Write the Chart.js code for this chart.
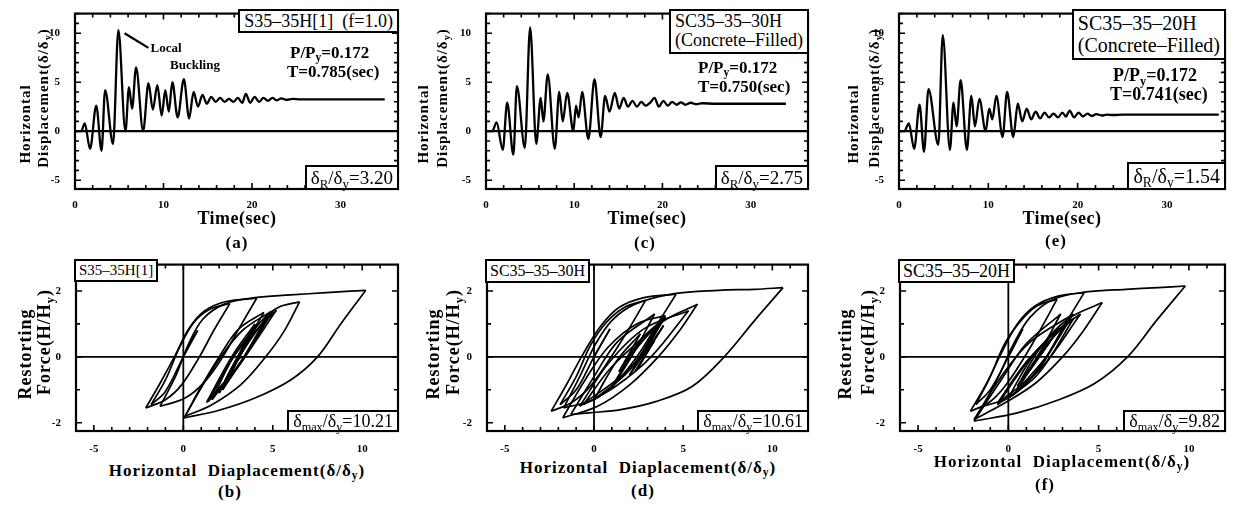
<!DOCTYPE html>
<html>
<head>
<meta charset="utf-8">
<script src="https://cdn.jsdelivr.net/npm/chart.js@4.4.1/dist/chart.umd.min.js"></script>
<style>
  body { margin: 0; background: #fff; }
  #fig { position: relative; width: 1235px; height: 506px; overflow: hidden; font-family: 'Liberation Serif', 'Times New Roman', serif; color: #000; }
  #fig canvas { position: absolute; }
  .t { position: absolute; white-space: nowrap; line-height: 1; z-index: 2; }
  .b { font-weight: bold; }
  .c { transform: translate(-50%, -50%); }
  .rot { transform: translate(-50%, -50%) rotate(-90deg); }
  .box { position: absolute; border: 2px solid #000; background: #fff; white-space: nowrap; line-height: 1; z-index: 2; padding: 1px 4px; }
  sub { font-size: 68%; vertical-align: -0.3em; line-height: 0; }
</style>
</head>
<body>
<div id="fig">
  <div id="plots"></div>

  <!-- (a) -->
  <div class="t b rot" style="left:25px;top:124px;font-size:15px;letter-spacing:1px">Horizontal</div>
  <div class="t b rot" style="left:43px;top:98px;font-size:15px;letter-spacing:1px">Displacement(δ/δ<sub>y</sub>)</div>
  <div class="t b c" style="left:237px;top:218px;font-size:18px;letter-spacing:0.5px">Time(sec)</div>
  <div class="t b c" style="left:237px;top:242px;font-size:17px;letter-spacing:1px">(a)</div>
  <div class="box" style="right:836px;top:9px;font-size:18px">S35–35H[1]&nbsp;&nbsp;(f=1.0)</div>
  <div class="t b" style="left:290px;top:44px;font-size:17px">P/P<sub>y</sub>=0.172</div>
  <div class="t b" style="left:287px;top:63px;font-size:17px">T=0.785(sec)</div>
  <div class="box" style="right:836px;bottom:316px;font-size:19px">δ<sub>R</sub>/δ<sub>y</sub>=3.20</div>
  <div class="t b c" style="left:166px;top:47px;font-size:13px">Local</div>
  <div class="t b c" style="left:195px;top:64px;font-size:13px">Buckling</div>

  <!-- (c) -->
  <div class="t b rot" style="left:423px;top:124px;font-size:15px;letter-spacing:1px">Horizontal</div>
  <div class="t b rot" style="left:442px;top:98px;font-size:15px;letter-spacing:1px">Displacement(δ/δ<sub>y</sub>)</div>
  <div class="t b c" style="left:647px;top:218px;font-size:18px;letter-spacing:0.5px">Time(sec)</div>
  <div class="t b c" style="left:645px;top:242px;font-size:17px;letter-spacing:1px">(c)</div>
  <div class="box" style="right:426px;top:9px;font-size:18px;line-height:1.08"><div>SC35–35–30H</div><div style="text-align:right">(Concrete–Filled)</div></div>
  <div class="t b" style="left:698px;top:59px;font-size:17px">P/P<sub>y</sub>=0.172</div>
  <div class="t b" style="left:698px;top:78px;font-size:17px">T=0.750(sec)</div>
  <div class="box" style="right:426px;bottom:316px;font-size:19px">δ<sub>R</sub>/δ<sub>y</sub>=2.75</div>

  <!-- (e) -->
  <div class="t b rot" style="left:853px;top:124px;font-size:15px;letter-spacing:1px">Horizontal</div>
  <div class="t b rot" style="left:874px;top:98px;font-size:15px;letter-spacing:1px">Displacement(δ/δ<sub>y</sub>)</div>
  <div class="t b c" style="left:1062px;top:218px;font-size:18px;letter-spacing:0.5px">Time(sec)</div>
  <div class="t b c" style="left:1056px;top:240px;font-size:17px;letter-spacing:1px">(e)</div>
  <div class="box" style="right:9px;top:9px;font-size:20px;line-height:1.12"><div>SC35–35–20H</div><div style="text-align:right">(Concrete–Filled)</div></div>
  <div class="t b" style="left:1113px;top:66px;font-size:18px">P/P<sub>y</sub>=0.172</div>
  <div class="t b" style="left:1110px;top:85px;font-size:18px">T=0.741(sec)</div>
  <div class="box" style="right:9px;bottom:316px;font-size:20px;padding:2px 4px">δ<sub>R</sub>/δ<sub>y</sub>=1.54</div>

  <!-- (b) -->
  <div class="t b rot" style="left:25px;top:354px;font-size:18px;letter-spacing:1px">Restorting</div>
  <div class="t b rot" style="left:44px;top:342px;font-size:18px;letter-spacing:1px">Force(H/H<sub>y</sub>)</div>
  <div class="t b c" style="left:237px;top:470px;font-size:17px;letter-spacing:1px">Horizontal&nbsp;&nbsp;Diaplacement(δ/δ<sub>y</sub>)</div>
  <div class="t b c" style="left:230px;top:491px;font-size:17px;letter-spacing:1px">(b)</div>
  <div class="box" style="left:74px;top:259px;font-size:15px;padding:2px 3px">S35–35H[1]</div>
  <div class="box" style="right:836px;bottom:74px;font-size:18px;padding:0 4px">δ<sub>max</sub>/δ<sub>y</sub>=10.21</div>

  <!-- (d) -->
  <div class="t b rot" style="left:433px;top:354px;font-size:18px;letter-spacing:1px">Restorting</div>
  <div class="t b rot" style="left:453px;top:342px;font-size:18px;letter-spacing:1px">Force(H/H<sub>y</sub>)</div>
  <div class="t b c" style="left:648px;top:467px;font-size:17px;letter-spacing:1px">Horizontal&nbsp;&nbsp;Diaplacement(δ/δ<sub>y</sub>)</div>
  <div class="t b c" style="left:643px;top:490px;font-size:17px;letter-spacing:1px">(d)</div>
  <div class="box" style="left:485px;top:259px;font-size:16px;padding:2px 3px">SC35–35–30H</div>
  <div class="box" style="right:426px;bottom:74px;font-size:18px;padding:0 4px">δ<sub>max</sub>/δ<sub>y</sub>=10.61</div>

  <!-- (f) -->
  <div class="t b rot" style="left:845px;top:354px;font-size:18px;letter-spacing:1px">Restorting</div>
  <div class="t b rot" style="left:868px;top:342px;font-size:18px;letter-spacing:1px">Force(H/H<sub>y</sub>)</div>
  <div class="t b c" style="left:1062px;top:461px;font-size:17px;letter-spacing:1px">Horizontal&nbsp;&nbsp;Diaplacement(δ/δ<sub>y</sub>)</div>
  <div class="t b c" style="left:1045px;top:484px;font-size:17px;letter-spacing:1px">(f)</div>
  <div class="box" style="left:898px;top:259px;font-size:18px;padding:1px 3px">SC35–35–20H</div>
  <div class="box" style="right:9px;bottom:74px;font-size:18px;padding:0 4px">δ<sub>max</sub>/δ<sub>y</sub>=9.82</div>
</div>

<script>
// ---- time histories (sec, δ/δy), peaks and troughs ----
const timeA = [0, 0.7, 1.1, 1.7, 2.4, 3.0, 3.4, 4.3, 4.9, 5.7, 6.1, 6.45, 6.9, 7.7, 8.3, 8.8, 9.3, 9.8, 10.2, 10.6, 11.0, 11.6, 12.3, 12.9, 13.4, 13.9, 14.4, 14.9, 15.4, 15.9, 16.4, 16.9, 17.4, 17.9, 18.4, 18.9, 19.3, 19.8, 20.3, 20.8, 21.3, 21.8, 22.3, 22.8, 23.3, 23.9, 24.6, 25.5, 35.0];
const dispA = [0, 0, 0.8, -1.8, 2.6, -2.0, 4.2, -1.3, 10.3, 0.0, 4.5, 2.3, 6.5, 0.0, 4.9, 2.2, 4.7, 1.6, 4.2, 2.0, 5.0, 1.4, 5.3, 1.3, 4.0, 2.5, 3.7, 2.8, 3.5, 3.0, 3.4, 3.0, 3.3, 3.0, 3.4, 2.9, 3.8, 2.9, 3.5, 3.0, 3.4, 3.1, 3.4, 3.15, 3.35, 3.2, 3.3, 3.25, 3.25];

const timeC = [0, 0.7, 1.2, 1.9, 2.4, 3.1, 3.5, 4.4, 5.0, 5.7, 6.2, 6.5, 7.0, 7.8, 8.3, 8.7, 9.2, 9.9, 10.2, 10.5, 10.9, 11.6, 12.3, 13.0, 13.5, 14.0, 14.6, 15.1, 15.6, 16.1, 16.6, 17.1, 17.6, 18.1, 18.6, 19.1, 19.6, 20.1, 20.6, 21.1, 21.6, 22.1, 22.6, 23.2, 23.8, 24.5, 26.0, 34.0];
const dispC = [0, 0, 0.9, -1.9, 2.9, -2.4, 4.6, -1.7, 10.6, -1.3, 3.4, 1.0, 5.8, -1.8, 4.0, 1.0, 3.9, 0.0, 2.6, 1.4, 4.0, -0.8, 5.3, -0.6, 3.6, 2.0, 3.9, 2.3, 3.4, 2.5, 3.1, 2.5, 3.0, 2.6, 2.9, 3.4, 2.5, 3.1, 2.6, 3.0, 2.7, 2.95, 2.7, 2.9, 2.75, 2.85, 2.8, 2.8];

const timeE = [0, 0.6, 1.1, 1.7, 2.3, 2.8, 3.3, 4.4, 4.9, 5.7, 6.1, 6.45, 6.9, 7.6, 8.1, 8.5, 9.0, 9.7, 10.1, 10.45, 10.9, 11.6, 12.1, 12.8, 13.3, 13.8, 14.3, 14.8, 15.3, 15.8, 16.3, 16.8, 17.3, 17.8, 18.3, 18.7, 19.1, 19.6, 20.1, 20.6, 21.1, 21.6, 22.1, 22.7, 23.3, 24.0, 25.0, 35.8];
const dispE = [0, 0, 0.8, -1.8, 2.7, -2.1, 4.3, -1.4, 9.8, -1.9, 2.9, 0.5, 5.2, -1.9, 3.6, 0.5, 3.3, 0.0, 2.3, 1.2, 3.6, -0.6, 4.0, -0.6, 2.8, 1.0, 2.3, 1.2, 2.0, 1.3, 1.9, 1.4, 1.8, 1.4, 1.9, 1.5, 2.1, 1.4, 1.9, 1.5, 1.8, 1.55, 1.75, 1.6, 1.7, 1.65, 1.7, 1.7];

// ---- hysteresis branches [δ/δy, H/Hy], in loading order ----
const loopB = [
  [[0, 0], [0.4, 0.45], [0.8, 0.8]],
  [[0.8, 0.8], [0, 0], [-1, -1.05], [-1.8, -1.45]],
  [[-1.8, -1.45], [-1.0, -0.7], [-0.2, 0.3], [0.6, 1.05], [1.5, 1.45], [2.6, 1.62]],
  [[2.6, 1.62], [1.7, 0.8], [0.9, 0], [-0.1, -0.85], [-1.0, -1.3], [-2.1, -1.55]],
  [[-2.1, -1.55], [-1.3, -0.8], [-0.5, 0], [0.3, 0.85], [1.2, 1.4], [2.4, 1.68], [4.1, 1.78]],
  [[4.1, 1.78], [3.1, 0.85], [2.2, 0], [1.2, -0.75], [0.1, -1.25], [-1.3, -1.5]],
  [[-1.3, -1.5], [-0.4, -0.55], [0.3, 0.4], [1.1, 1.15], [2.3, 1.6], [4.0, 1.8], [6.0, 1.88], [8.0, 1.95], [10.2, 2.02]],
  [[10.2, 2.02], [8.8, 1.0], [7.5, 0], [6.0, -0.7], [4.0, -1.25], [2.0, -1.62], [0.05, -1.85]],
  [[0.05, -1.85], [1.0, -0.9], [2.0, 0], [3.1, 0.85], [4.5, 1.35]],
  [[4.5, 1.35], [3.4, 0.3], [2.3, -0.75]],
  [[2.3, -0.75], [3.3, 0.25], [4.3, 1.05], [5.3, 1.5], [6.5, 1.67]],
  [[6.5, 1.67], [5.6, 0.75], [4.6, 0], [3.2, -0.85], [1.6, -1.45], [0.1, -1.8]],
  [[0.1, -1.8], [1.1, -0.85], [2.1, 0], [3.3, 0.8], [4.9, 1.38]],
  [[4.9, 1.38], [3.6, 0.15], [2.2, -1.0]],
  [[2.2, -1.0], [3.3, 0.15], [4.7, 1.25]],
  [[4.7, 1.25], [3.2, -0.15], [1.6, -1.3]],
  [[1.6, -1.3], [2.8, 0], [4.2, 1.05]],
  [[4.2, 1.05], [3.1, -0.05], [2.0, -1.1]],
  [[2.0, -1.1], [3.4, 0.3], [5.0, 1.4]],
  [[5.0, 1.4], [3.2, -0.2], [1.4, -1.35]],
  [[1.4, -1.35], [3.0, 0.15], [5.2, 1.42]],
  [[5.2, 1.42], [3.3, -0.1], [1.3, -1.38]],
  [[1.3, -1.38], [2.7, 0], [4.0, 1.0]],
  [[4.0, 1.0], [2.5, -0.55]],
  [[2.5, -0.55], [3.7, 0.55]],
  [[3.7, 0.55], [2.8, -0.3]],
  [[2.8, -0.3], [3.5, 0.35]],
  [[3.5, 0.35], [3.0, -0.1]],
  [[3.0, -0.1], [3.25, 0]]
];

const loopD = [
  [[0, 0], [0.9, 0.85]],
  [[0.9, 0.85], [0, 0], [-1.0, -1.0], [-1.9, -1.45]],
  [[-1.9, -1.45], [-1.0, -0.6], [-0.2, 0.35], [0.7, 1.05], [1.7, 1.5], [2.9, 1.72]],
  [[2.9, 1.72], [1.9, 0.8], [0.9, -0.05], [-0.3, -0.95], [-1.3, -1.4], [-2.4, -1.65]],
  [[-2.4, -1.65], [-1.5, -0.8], [-0.6, 0.1], [0.4, 0.95], [1.4, 1.5], [2.8, 1.8], [4.6, 1.9]],
  [[4.6, 1.9], [3.5, 0.95], [2.4, 0], [1.2, -0.8], [0, -1.3], [-1.7, -1.55]],
  [[-1.7, -1.55], [-0.8, -0.6], [0.1, 0.4], [1.0, 1.1], [2.3, 1.6], [4.5, 1.92], [7.0, 2.02], [9.0, 2.05], [10.6, 2.1]],
  [[10.6, 2.1], [9.0, 1.1], [7.3, 0], [5.5, -0.9], [3.5, -1.35], [1.5, -1.6], [-0.3, -1.7], [-1.3, -1.75]],
  [[-1.3, -1.75], [0, -0.6], [1.3, 0.45], [3.4, 1.3]],
  [[3.4, 1.3], [2.2, 0.1], [1.0, -0.95]],
  [[1.0, -0.95], [2.3, 0.2], [3.8, 1.05], [5.8, 1.6]],
  [[5.8, 1.6], [4.8, 0.8], [3.6, 0], [2.0, -0.85], [0.2, -1.5], [-1.75, -1.85]],
  [[-1.75, -1.85], [-0.5, -0.7], [0.8, 0.3], [2.4, 1.0], [4.0, 1.25]],
  [[4.0, 1.25], [2.7, 0.05], [1.0, -0.9]],
  [[1.0, -0.9], [2.3, 0.2], [3.9, 1.2]],
  [[3.9, 1.2], [2.0, -0.4], [0, -1.3]],
  [[0, -1.3], [1.3, -0.1], [2.6, 0.7]],
  [[2.6, 0.7], [1.4, -0.45]],
  [[1.4, -0.45], [2.6, 0.5], [4.0, 1.2]],
  [[4.0, 1.2], [2.0, -0.35], [-0.8, -1.5]],
  [[-0.8, -1.5], [0.8, -0.2], [2.8, 0.85], [5.3, 1.4]],
  [[5.3, 1.4], [3.2, 0], [1.2, -0.9], [-0.6, -1.45]],
  [[-0.6, -1.45], [1.0, -0.3], [3.6, 1.0]],
  [[3.6, 1.0], [2.0, -0.55]],
  [[2.0, -0.55], [3.9, 0.95]],
  [[3.9, 0.95], [2.3, -0.45]],
  [[2.3, -0.45], [3.4, 0.5]],
  [[3.4, 0.5], [2.5, -0.3]],
  [[2.5, -0.3], [3.1, 0.25]],
  [[3.1, 0.25], [2.75, 0]]
];

const loopF = [
  [[0, 0], [0.8, 0.85]],
  [[0.8, 0.85], [0, 0], [-1.0, -1.0], [-1.8, -1.45]],
  [[-1.8, -1.45], [-1.0, -0.6], [-0.2, 0.4], [0.7, 1.1], [1.6, 1.55], [2.7, 1.75]],
  [[2.7, 1.75], [1.8, 0.85], [0.9, 0], [-0.2, -0.9], [-1.1, -1.4], [-2.1, -1.65]],
  [[-2.1, -1.65], [-1.2, -0.8], [-0.4, 0.1], [0.5, 1.0], [1.5, 1.55], [2.8, 1.85], [4.2, 1.95]],
  [[4.2, 1.95], [3.1, 0.95], [2.1, 0], [1.0, -0.8], [0, -1.25], [-1.4, -1.5]],
  [[-1.4, -1.5], [-0.5, -0.55], [0.3, 0.4], [1.2, 1.2], [2.5, 1.75], [4.3, 1.97], [6.5, 2.05], [8.3, 2.1], [9.8, 2.15]],
  [[9.8, 2.15], [8.2, 1.1], [6.6, 0], [4.8, -0.8], [2.8, -1.3], [0.5, -1.7], [-1.9, -1.95]],
  [[-1.9, -1.95], [-0.4, -0.7], [1.0, 0.4], [2.9, 1.3]],
  [[2.9, 1.3], [1.7, 0.1], [0.5, -0.9]],
  [[0.5, -0.9], [1.8, 0.3], [3.3, 1.15], [5.2, 1.65]],
  [[5.2, 1.65], [4.1, 0.75], [3.0, 0], [1.5, -0.8], [-0.2, -1.4], [-1.9, -1.9]],
  [[-1.9, -1.9], [-0.4, -0.6], [1.2, 0.45], [3.6, 1.3]],
  [[3.6, 1.3], [2.1, 0], [0.5, -1.0]],
  [[0.5, -1.0], [1.9, 0.2], [3.3, 1.1]],
  [[3.3, 1.1], [1.6, -0.45], [0, -1.25]],
  [[0, -1.25], [1.2, -0.1], [2.3, 0.6]],
  [[2.3, 0.6], [1.2, -0.4]],
  [[1.2, -0.4], [2.4, 0.55], [3.6, 1.15]],
  [[3.6, 1.15], [1.6, -0.55], [-0.6, -1.45]],
  [[-0.6, -1.45], [1.2, -0.05], [2.7, 0.8], [4.0, 1.3]],
  [[4.0, 1.3], [1.8, -0.35], [-0.6, -1.4]],
  [[-0.6, -1.4], [1.0, -0.15], [2.8, 0.85]],
  [[2.8, 0.85], [1.0, -0.55]],
  [[1.0, -0.55], [2.3, 0.45]],
  [[2.3, 0.45], [1.2, -0.35]],
  [[1.2, -0.35], [2.0, 0.25]],
  [[2.0, 0.25], [1.6, 0]]
];

// axis ranges
const timeRange = [0, 36.5], dispRange = [-5.9, 12];
const loopXRange = [-6, 12], loopYRange = [-2.25, 2.8];

// frame with inward ticks on all four sides, plus zero lines
const framePlugin = {
  id: 'frame',
  beforeDatasetsDraw(chart, args, opts) {
    const {ctx, chartArea: a, scales: {x, y}} = chart;
    ctx.save();
    ctx.strokeStyle = '#000';
    ctx.lineWidth = opts.zeroWidth;
    ctx.beginPath();
    const y0 = y.getPixelForValue(0);
    ctx.moveTo(a.left, y0); ctx.lineTo(a.right, y0);
    if (opts.cross) {
      const x0 = x.getPixelForValue(0);
      ctx.moveTo(x0, a.top); ctx.lineTo(x0, a.bottom);
    }
    if (opts.arrow) {
      const [p, q] = opts.arrow;
      ctx.moveTo(x.getPixelForValue(p[0]), y.getPixelForValue(p[1]));
      ctx.lineTo(x.getPixelForValue(q[0]), y.getPixelForValue(q[1]));
    }
    ctx.stroke();
    ctx.restore();
  },
  afterDraw(chart) {
    const {ctx, chartArea: a, scales: {x, y}} = chart;
    ctx.save();
    ctx.strokeStyle = '#000';
    ctx.lineWidth = 2.2;
    ctx.strokeRect(a.left, a.top, a.right - a.left, a.bottom - a.top);
    ctx.lineWidth = 1.6;
    ctx.beginPath();
    x.ticks.forEach(t => {
      const px = x.getPixelForValue(t.value);
      const len = t.label !== '' ? 6 : 4;
      ctx.moveTo(px, a.bottom); ctx.lineTo(px, a.bottom - len);
      ctx.moveTo(px, a.top); ctx.lineTo(px, a.top + len);
    });
    y.ticks.forEach(t => {
      const py = y.getPixelForValue(t.value);
      const len = t.label !== '' ? 6 : 4;
      ctx.moveTo(a.left, py); ctx.lineTo(a.left + len, py);
      ctx.moveTo(a.right, py); ctx.lineTo(a.right - len, py);
    });
    ctx.stroke();
    ctx.restore();
  }
};

const PADL = 46, PADT = 10, PADR = 10, PADB = 24;
const tickFont = {family: "'Liberation Serif', 'Times New Roman', serif", weight: 'bold', size: 11};

function addChart(rect, xr, yr, xStep, xMajor, yStep, yMajor, datasets, frame, xPad) {
  const w = rect.R - rect.L + PADL + PADR;
  const h = rect.B - rect.T + PADT + PADB;
  const cv = document.createElement('canvas');
  cv.width = w; cv.height = h;
  cv.style.left = (rect.L - PADL) + 'px';
  cv.style.top = (rect.T - PADT) + 'px';
  cv.style.width = w + 'px';
  cv.style.height = h + 'px';
  document.getElementById('plots').appendChild(cv);

  new Chart(cv, {
    type: 'line',
    data: {datasets: datasets},
    plugins: [framePlugin],
    options: {
      responsive: false,
      animation: false,
      events: [],
      layout: {padding: {top: PADT, right: PADR, left: 0, bottom: 0}},
      plugins: {legend: {display: false}, tooltip: {enabled: false}, frame: frame},
      scales: {
        x: {
          type: 'linear', min: xr[0], max: xr[1],
          grid: {display: false}, border: {display: false},
          afterFit: s => { s.height = PADB; },
          ticks: {
            stepSize: xStep, autoSkip: false, maxRotation: 0, includeBounds: false,
            padding: xPad, color: '#000', font: tickFont,
            callback: v => (Math.abs(v % xMajor) < 1e-9 ? v : '')
          }
        },
        y: {
          type: 'linear', min: yr[0], max: yr[1],
          grid: {display: false}, border: {display: false},
          afterFit: s => { s.width = PADL; },
          ticks: {
            stepSize: yStep, autoSkip: false, includeBounds: false,
            padding: 7, color: '#000', font: tickFont,
            callback: v => (Math.abs(v % yMajor) < 1e-9 ? v : '')
          }
        }
      }
    }
  });
}

function historySet(times, disps) {
  return [{
    data: times.map((t, i) => ({x: t, y: disps[i]})),
    borderColor: '#000', borderWidth: 2.3, pointRadius: 0, fill: false,
    tension: 0.4, cubicInterpolationMode: 'monotone'
  }];
}

function loopSets(branches) {
  return branches.map(br => ({
    data: br.map(p => ({x: p[0], y: p[1]})),
    borderColor: '#000', borderWidth: 1.7, pointRadius: 0, fill: false,
    tension: 0.35
  }));
}

// top row: time histories
addChart({L: 75, T: 10, R: 398, B: 189}, timeRange, dispRange, 2, 10, 1, 5,
  historySet(timeA, dispA), {zeroWidth: 2.2, cross: false, arrow: [[5.6, 10.0], [8.3, 8.5]]}, 2);
addChart({L: 486, T: 10, R: 808, B: 189}, timeRange, dispRange, 2, 10, 1, 5,
  historySet(timeC, dispC), {zeroWidth: 2.2, cross: false}, 2);
addChart({L: 899, T: 10, R: 1225, B: 189}, timeRange, dispRange, 2, 10, 1, 5,
  historySet(timeE, dispE), {zeroWidth: 2.2, cross: false}, 2);

// bottom row: hysteresis loops
addChart({L: 76, T: 261, R: 398, B: 431}, loopXRange, loopYRange, 1, 5, 1, 2,
  loopSets(loopB), {zeroWidth: 1.8, cross: true}, 4);
addChart({L: 487, T: 261, R: 808, B: 431}, loopXRange, loopYRange, 1, 5, 1, 2,
  loopSets(loopD), {zeroWidth: 1.8, cross: true}, 4);
addChart({L: 900, T: 261, R: 1225, B: 431}, loopXRange, loopYRange, 1, 5, 1, 2,
  loopSets(loopF), {zeroWidth: 1.8, cross: true}, 4);
</script>
</body>
</html>
